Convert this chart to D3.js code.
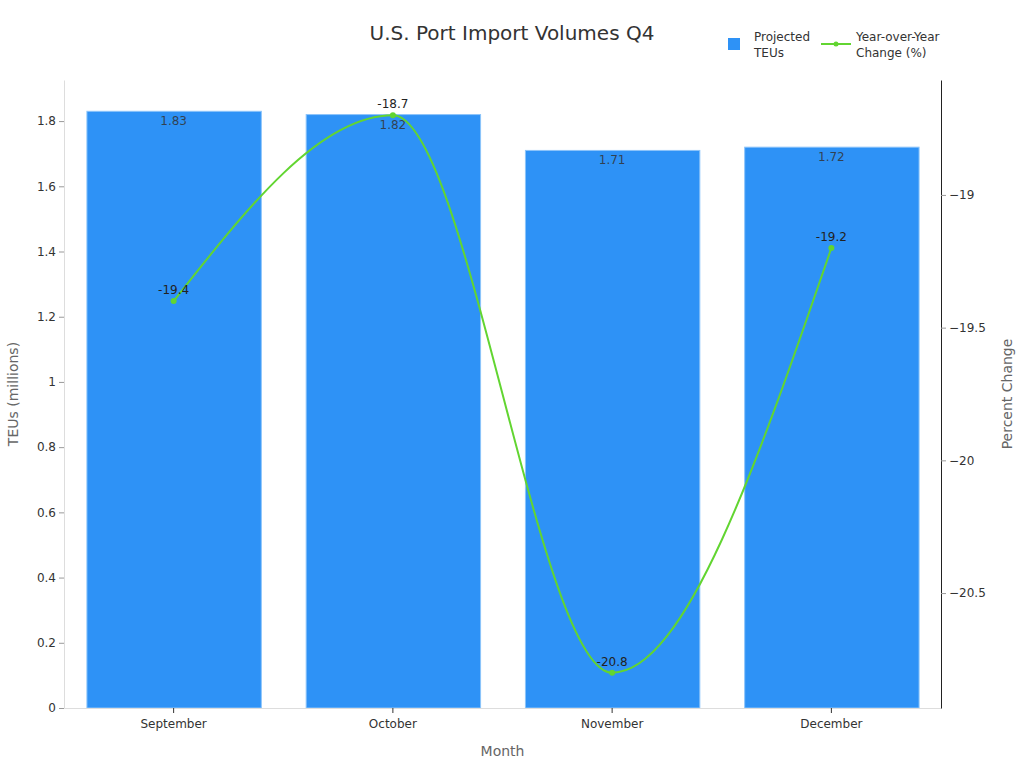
<!DOCTYPE html>
<html lang="en">
<head>
    <meta charset="UTF-8">
    <title>U.S. Port Import Volumes Q4</title>
    <script src="https://d3js.org/d3.v7.min.js"></script>
    <style>
        body {
            margin: 0;
            font-family: "DejaVu Sans", sans-serif;
            background: #fff;
        }
        .tick text {
            font-family: "DejaVu Sans", sans-serif;
            font-size: 12px;
            fill: #333;
        }
        .axis-label {
            font-size: 14px;
            fill: #666;
        }
    </style>
</head>
<body>
    <div class="chart"></div>

    <script>
        // Chart data
        const months = ["September", "October", "November", "December"];
        const teus = [1.83, 1.82, 1.71, 1.72];
        const yoyChange = [-19.4, -18.7, -20.8, -19.2];
        const leftTicks = [0, 0.2, 0.4, 0.6, 0.8, 1, 1.2, 1.4, 1.6, 1.8];
        const rightTicks = [-19, -19.5, -20, -20.5];

        const width = 1024, height = 768;
        const margin = { top: 80, right: 83, bottom: 60, left: 64 };
        const innerW = width - margin.left - margin.right;
        const innerH = height - margin.top - margin.bottom;

        const svg = d3.select(".chart")
            .append("svg")
            .attr("width", width)
            .attr("height", height);

        const g = svg.append("g")
            .attr("transform", `translate(${margin.left},${margin.top})`);

        // Scales
        const x = d3.scaleBand()
            .domain(months)
            .range([0, innerW])
            .paddingInner(0.2)
            .paddingOuter(0.1);

        const yLeft = d3.scaleLinear()
            .domain([0, 1.926])
            .range([innerH, 0]);

        const yRight = d3.scaleLinear()
            .domain([-20.933, -18.567])
            .range([innerH, 0]);

        // Bars
        g.selectAll(".bar")
            .data(months)
            .join("rect")
            .attr("class", "bar")
            .attr("x", d => x(d) + 1)
            .attr("y", (d, i) => yLeft(teus[i]))
            .attr("width", x.bandwidth() - 1)
            .attr("height", (d, i) => innerH - yLeft(teus[i]))
            .attr("fill", "#2e92f6")
            .attr("stroke", "#8cc4fa")
            .attr("stroke-width", 1);

        // Bar value labels
        g.selectAll(".bar-label")
            .data(months)
            .join("text")
            .attr("class", "bar-label")
            .attr("x", d => x(d) + x.bandwidth() / 2)
            .attr("y", (d, i) => yLeft(teus[i]) + 14)
            .attr("text-anchor", "middle")
            .attr("font-size", 12)
            .attr("fill", "#333")
            .attr("fill-opacity", 0.85)
            .text((d, i) => teus[i].toFixed(2));

        // Left axis
        const axisL = g.append("g")
            .call(d3.axisLeft(yLeft).tickValues(leftTicks).tickSize(5).tickSizeOuter(0).tickFormat(d => d));
        axisL.select(".domain").attr("stroke", "#ddd");
        axisL.selectAll(".tick line").attr("stroke", "#999");

        // Bottom axis
        const axisB = g.append("g")
            .attr("transform", `translate(0,${innerH})`)
            .call(d3.axisBottom(x).tickSize(5).tickSizeOuter(0).tickPadding(6));
        axisB.select(".domain").attr("stroke", "#ddd");
        axisB.selectAll(".tick line").attr("stroke", "#333");

        // Right axis
        const axisR = g.append("g")
            .attr("transform", `translate(${innerW},0)`)
            .call(d3.axisRight(yRight).tickValues(rightTicks).tickSize(5).tickSizeOuter(0)
                .tickFormat(d => String(d).replace("-", "\u2212")));
        axisR.select(".domain").attr("stroke", "#222");
        axisR.selectAll(".tick line").attr("stroke", "#999");

        // Year-over-year line
        const line = d3.line()
            .x((d, i) => x(months[i]) + x.bandwidth() / 2)
            .y(d => yRight(d))
            .curve(d3.curveMonotoneX);

        g.append("path")
            .datum(yoyChange)
            .attr("fill", "none")
            .attr("stroke", "#62d531")
            .attr("stroke-width", 2)
            .attr("d", line);

        g.selectAll(".pt")
            .data(yoyChange)
            .join("circle")
            .attr("class", "pt")
            .attr("cx", (d, i) => x(months[i]) + x.bandwidth() / 2)
            .attr("cy", d => yRight(d))
            .attr("r", 3)
            .attr("fill", "#62d531");

        g.selectAll(".pt-label")
            .data(yoyChange)
            .join("text")
            .attr("class", "pt-label")
            .attr("x", (d, i) => x(months[i]) + x.bandwidth() / 2)
            .attr("y", d => yRight(d) - 7)
            .attr("text-anchor", "middle")
            .attr("font-size", 12)
            .attr("fill", "#222")
            .text(d => d.toFixed(1));

        // Title
        svg.append("text")
            .attr("x", 512)
            .attr("y", 40)
            .attr("text-anchor", "middle")
            .attr("font-size", 20)
            .attr("fill", "#333")
            .text("U.S. Port Import Volumes Q4");

        // Axis labels
        svg.append("text")
            .attr("class", "axis-label")
            .attr("text-anchor", "middle")
            .attr("x", margin.left + innerW / 2)
            .attr("y", 756)
            .text("Month");

        svg.append("text")
            .attr("class", "axis-label")
            .attr("text-anchor", "middle")
            .attr("transform", `translate(18,${margin.top + innerH / 2}) rotate(-90)`)
            .text("TEUs (millions)");

        svg.append("text")
            .attr("class", "axis-label")
            .attr("text-anchor", "middle")
            .attr("transform", `translate(1012,${margin.top + innerH / 2}) rotate(-90)`)
            .text("Percent Change");

        // Legend
        const legend = svg.append("g").attr("font-size", 12).attr("fill", "#333");
        legend.append("rect")
            .attr("x", 728).attr("y", 38)
            .attr("width", 12).attr("height", 12)
            .attr("fill", "#2e92f6");
        legend.append("text").attr("x", 754).attr("y", 41).text("Projected");
        legend.append("text").attr("x", 754).attr("y", 57).text("TEUs");

        legend.append("line")
            .attr("x1", 821).attr("x2", 851)
            .attr("y1", 44).attr("y2", 44)
            .attr("stroke", "#62d531").attr("stroke-width", 2);
        legend.append("circle")
            .attr("cx", 836).attr("cy", 44).attr("r", 2.5)
            .attr("fill", "#62d531");
        legend.append("text").attr("x", 856).attr("y", 41).text("Year-over-Year");
        legend.append("text").attr("x", 856).attr("y", 57).text("Change (%)");
    </script>
</body>
</html>
